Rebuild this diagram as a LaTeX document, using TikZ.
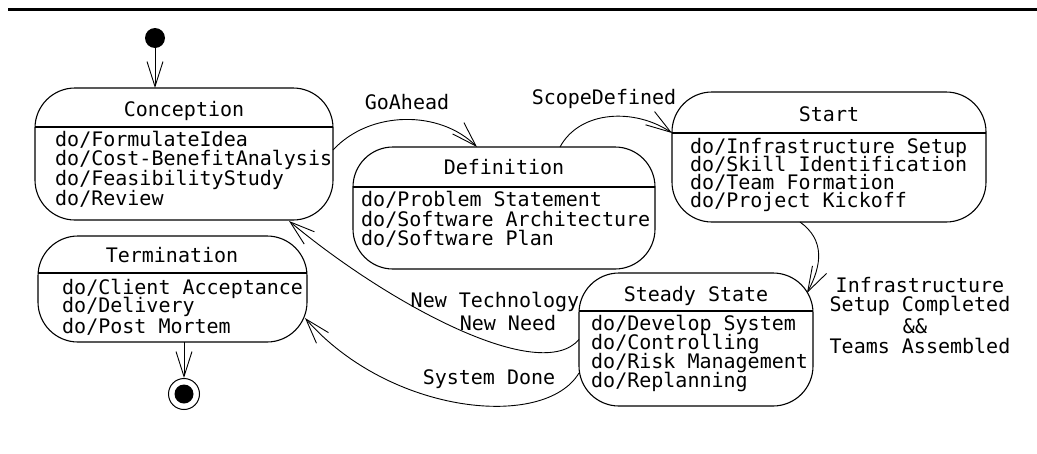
\documentclass[tikz,border=0pt]{standalone}
\usepackage{fontspec}
\setmonofont{DejaVu Sans Mono}
\usetikzlibrary{arrows.meta}
\begin{document}
\begin{tikzpicture}[x=1pt,y=-1pt,
  font=\fontsize{20}{20}\selectfont\ttfamily,
  statebox/.style={draw, line width=1.1pt, rounded corners=40pt, inner sep=0pt, outer sep=0pt},
  txt/.style={inner sep=0pt, anchor=base west},
  ttl/.style={inner sep=0pt, anchor=base},
  sepline/.style={line width=2pt},
  trans/.style={line width=0.9pt, -{Straight Barb[length=25pt,width=16pt]}}]
\useasboundingbox (0,0) rectangle (1037,453);
% top rule
\coordinate (ruleL) at (8,9.7);
\coordinate (ruleR) at (1037,9.7);
\draw[line width=3pt] (ruleL) -- (ruleR);

% initial and final states
\node[circle, fill, inner sep=0pt, minimum size=20pt] (init) at (155,38) {};
\node[circle, draw, line width=1pt, inner sep=0pt, minimum size=31pt] (fin) at (184,394) {};
\node[circle, fill, inner sep=0pt, minimum size=19pt] (finc) at (184,394) {};

% Conception
\node[statebox, minimum width=298pt, minimum height=132pt] (con) at (184,154) {};
\draw[sepline] (con.west |- 0,127) -- (con.east |- 0,127);
\node[ttl] (conT) at (184,116.5) {Conception};
\node[txt] (con1) at (55,146) {do/FormulateIdea};
\node[txt] (con2) at (55,165.7) {do/Cost-BenefitAnalysis};
\node[txt] (con3) at (55,185.4) {do/FeasibilityStudy};
\node[txt] (con4) at (55,205) {do/Review};

% Definition
\node[statebox, minimum width=302pt, minimum height=122pt] (def) at (504,208) {};
\draw[sepline] (def.west |- 0,187) -- (def.east |- 0,187);
\node[ttl] (defT) at (504,174.5) {Definition};
\node[txt] (def1) at (361,206.5) {do/Problem Statement};
\node[txt] (def2) at (361,226) {do/Software Architecture};
\node[txt] (def3) at (361,245) {do/Software Plan};

% Start
\node[statebox, minimum width=314pt, minimum height=130pt] (start) at (829,157) {};
\draw[sepline] (start.west |- 0,133) -- (start.east |- 0,133);
\node[ttl] (startT) at (829,121.5) {Start};
\node[txt] (st1) at (690,153) {do/Infrastructure Setup};
\node[txt] (st2) at (690,171) {do/Skill Identification};
\node[txt] (st3) at (690,189.5) {do/Team Formation};
\node[txt] (st4) at (690,207) {do/Project Kickoff};

% Steady State
\node[statebox, minimum width=234pt, minimum height=133pt] (steady) at (696,339.5) {};
\draw[sepline] (steady.west |- 0,311) -- (steady.east |- 0,311);
\node[ttl] (steadyT) at (696,301.5) {Steady State};
\node[txt] (ss1) at (591,330) {do/Develop System};
\node[txt] (ss2) at (591,349) {do/Controlling};
\node[txt] (ss3) at (591,368) {do/Risk Management};
\node[txt] (ss4) at (591,387) {do/Replanning};

% Termination
\node[statebox, minimum width=269pt, minimum height=106pt] (term) at (172.5,289) {};
\draw[sepline] (term.west |- 0,273) -- (term.east |- 0,273);
\node[ttl] (termT) at (172,262.5) {Termination};
\node[txt] (tm1) at (62,294) {do/Client Acceptance};
\node[txt] (tm2) at (62,312) {do/Delivery};
\node[txt] (tm3) at (62,333) {do/Post Mortem};

% transitions
\draw[trans] (init) -- (init |- con.north);
\draw[trans] (term.south -| fin) -- (fin.north);

\draw[trans] ([yshift=4pt]con.east) .. controls (370,110) and (440,110) .. ([xshift=-27pt]def.north);
\node[ttl] (goahead) at (407,109) {GoAhead};

\draw[trans] ([xshift=56pt]def.north) .. controls (580,110) and (635,108) .. (start.west |- 0,133);
\node[ttl] (scope) at (604,104.6) {ScopeDefined};

\draw[trans] ([xshift=-29pt]start.south) .. controls (825,240) and (822,265) .. ([xshift=-6pt,yshift=-20pt]steady.north east);
\node[ttl] (infra1) at (920,292) {Infrastructure};
\node[ttl] (infra2) at (920,311.6) {Setup Completed};
\node[ttl] (infra3) at (915,333) {\&\&};
\node[ttl] (infra4) at (920,353) {Teams Assembled};

\draw[trans] (steady.west) .. controls (540,385) and (390,305) .. (289,221);
\node[ttl] (newtech) at (495,307.6) {New Technology};
\node[ttl] (newneed) at (508,330.6) {New Need};

\draw[trans] ([yshift=-33.5pt]steady.west) .. controls (545,430) and (390,415) .. (305,318);
\node[ttl] (sysdone) at (489,384.6) {System Done};
\end{tikzpicture}
\end{document}
